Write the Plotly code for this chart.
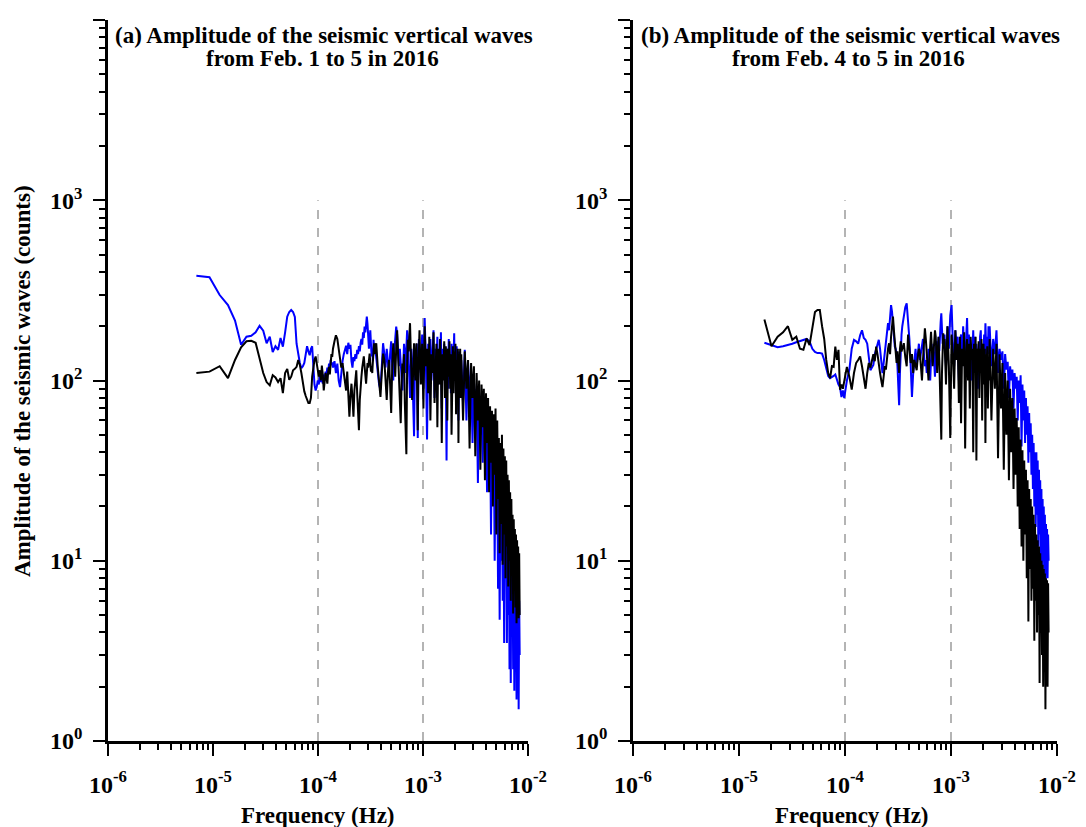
import plotly.graph_objects as go

# ---------------- data ----------------
DF_A = 1 / 432000.0   # Hz, frequency resolution of the Feb. 1-5 record
DF_B = 1 / 172800.0   # Hz, frequency resolution of the Feb. 4-5 record

# frequency-bin segments: (first bin, bin step); values below follow these bins
BINS_A = [(3, 1), (60, 2), (150, 5), (400, 12), (1000, 40)]
BINS_B = [(3, 0.5), (17, 1), (60, 2), (150, 5), (400, 16)]

blue_a = [
    [381, 374, 298, 262, 215, 158, 175, 177, 185, 201, 189, 161, 175, 144, 155, 148, 172, 154, 185, 226,
     240, 246, 240, 225, 160, 136, 125, 117, 120, 125, 145, 155, 145, 138, 150, 155, 120, 95, 88, 92, 100,
     95, 110, 98, 104, 96, 108, 102, 112, 106, 118, 110, 124, 116, 130, 122, 126],
    [118, 128, 110, 124, 100, 92, 115, 128, 140, 150, 156, 140, 162, 150, 158, 128, 118, 135, 128, 140,
     132, 148, 140, 155, 145, 162, 170, 158, 185, 172, 199, 185, 215, 226, 205, 180, 150, 172, 190, 160,
     136, 150, 128, 168, 150],
    [160, 130, 110, 95, 89, 120, 161, 140, 118, 150, 130, 108, 140, 165, 120, 100, 145, 170, 199, 180,
     140, 120, 150, 130, 100, 88, 120, 160, 140, 110, 150, 190, 175, 130, 95, 80, 110, 150, 130, 90,
     70, 49, 95, 140, 120, 160, 100, 48, 120, 170],
    [150, 110, 180, 90, 222, 130, 47, 160, 120, 170, 100, 140, 190, 80, 150, 120, 175, 95, 140, 110,
     185, 70, 150, 130, 160, 100, 125, 36, 150, 90, 170, 120, 140, 85, 160, 110, 150, 130, 183, 100,
     140, 75, 155, 110, 130, 60, 145, 100, 125, 90],
    [130, 75, 148, 60, 125, 85, 110, 45, 100, 70, 90, 27, 85, 50, 80, 35, 72, 45, 65, 24,
     60, 30, 55, 14, 50, 22, 45, 10, 40, 18, 35, 7, 30, 4.7, 28, 10, 25, 6, 22, 3.5,
     20, 8, 18, 3.5, 16, 5, 14, 2.5, 13, 2.1, 12, 4, 11, 2.5, 10, 1.9, 9, 3, 8, 1.7,
     8, 2.5, 7, 1.5, 6, 3],
]

black_a = [
    [110, 112, 120, 103, 130, 153, 165, 166, 162, 132, 110, 98, 94, 107, 104, 98, 103, 85, 110, 116,
     101, 105, 114, 116, 119, 130, 122, 110, 95, 87, 82, 77, 75, 75, 80, 105, 119, 130, 136, 125, 110,
     105, 114, 100, 121, 108, 88, 98, 110, 104, 96, 112, 119, 108, 125, 140, 135],
    [150, 165, 178, 170, 150, 135, 118, 125, 108, 95, 88, 112, 75, 63, 82, 96, 80, 63, 88, 105,
     114, 85, 66, 53, 78, 98, 105, 118, 128, 136, 120, 105, 96, 110, 125, 118, 130, 141, 125, 112,
     120, 110, 128, 145, 161],
    [140, 161, 120, 95, 81, 110, 141, 130, 100, 78, 110, 130, 95, 66, 120, 161, 135, 105, 150, 190,
     140, 110, 85, 58, 95, 124, 110, 140, 75, 55, 39, 120, 168, 145, 180, 208, 150, 110, 78, 95,
     130, 161, 120, 100, 140, 161, 90, 53, 110, 150],
    [190, 95, 160, 70, 200, 120, 150, 85, 175, 60, 140, 110, 185, 75, 130, 160, 55, 150, 95, 170,
     120, 45, 140, 100, 165, 80, 155, 130, 60, 150, 105, 165, 90, 140, 50, 120, 155, 85, 145, 110,
     160, 65, 130, 95, 150, 45, 140, 115, 150, 80],
    [140, 60, 145, 90, 130, 42, 125, 80, 120, 38, 110, 60, 100, 32, 95, 55, 90, 28, 85, 45,
     80, 24, 72, 35, 68, 20, 65, 30, 70, 14, 60, 22, 48, 11, 45, 16, 50, 9.5, 42, 14,
     38, 8, 36, 12, 30, 7.2, 28, 10, 24, 6, 22, 9, 18, 5.1, 17, 8, 15, 5.5, 14, 4.5,
     13, 6, 12, 4.8, 11, 5],
]

blue_b = [
    [162, 157, 153, 155, 157, 160, 163, 166, 168, 170, 165, 150, 144, 142, 142, 141, 130, 118, 106, 103,
     104, 106, 108, 100, 95, 92, 81, 88],
    [80, 100, 115, 150, 168, 165, 160, 178, 190, 172, 168, 160, 130, 114, 118, 122, 140, 150, 160, 168,
     150, 130, 110, 125, 140, 165, 180, 208, 190, 235, 262, 240, 200, 175, 154, 150, 140, 120, 100, 73,
     110, 150, 180],
    [200, 230, 255, 268, 220, 170, 120, 81, 110, 130, 150, 120, 141, 160, 130, 145, 154, 170, 140, 120,
     130, 110, 125, 150, 115, 100, 130, 150, 141, 160, 125, 105, 140, 165, 130, 150, 175, 145, 190, 210,
     236, 200, 160, 180, 150],
    [180, 120, 200, 150, 230, 262, 160, 120, 190, 140, 175, 100, 160, 180, 130, 200, 150, 110, 170, 222,
     140, 180, 120, 160, 100, 150, 190, 130, 175, 110, 160, 140, 90, 150, 120, 175, 190, 130, 160, 100,
     150, 180, 140, 208, 160, 120, 175, 140, 200, 150],
    [200, 120, 170, 140, 190, 110, 150, 130, 145, 90, 140, 115, 127, 80, 120, 100, 115, 70, 110, 90,
     105, 60, 100, 75, 107, 43, 95, 60, 88, 45, 80, 50, 72, 35, 66, 40, 58, 30, 50, 25,
     45, 20, 40, 15.4, 40, 18, 36, 12, 32, 14, 28, 10, 25, 7.8, 22, 10, 20, 8, 18, 7.5,
     16, 9, 15, 8, 14, 10],
]

black_b = [
    [218, 155, 175, 185, 200, 168, 175, 150, 148, 171, 157, 200, 240, 246, 246, 200, 170, 130, 110, 103,
     120, 119, 154, 130, 148, 89, 95, 90],
    [100, 119, 105, 89, 110, 125, 130, 136, 120, 100, 90, 110, 125, 118, 132, 140, 128, 154, 140, 120,
     110, 100, 92, 105, 120, 115, 135, 150, 161, 140, 175, 200, 226, 190, 160, 140, 125, 145, 130, 110,
     150, 165, 145],
    [150, 161, 135, 120, 180, 150, 125, 140, 110, 130, 120, 114, 135, 150, 141, 120, 100, 130, 165, 195,
     170, 140, 119, 100, 130, 160, 186, 150, 120, 140, 160, 190, 175, 140, 110, 150, 175, 130, 100, 75,
     47, 110, 150, 183, 160],
    [170, 95, 200, 120, 48, 180, 140, 90, 190, 130, 160, 75, 175, 58, 150, 120, 185, 42, 140, 170,
     100, 160, 70, 175, 130, 150, 40, 160, 110, 175, 36, 150, 120, 165, 80, 150, 110, 170, 60, 140,
     160, 95, 150, 45, 140, 120, 155, 70, 135, 100],
    [170, 60, 150, 90, 160, 37, 140, 70, 125, 32, 110, 50, 100, 28, 90, 40, 80, 25, 70, 30,
     62, 20, 55, 15, 47, 12, 41, 10, 36, 14, 32, 8, 28, 4.6, 25, 9, 22, 6, 20, 7,
     18, 3.6, 16, 6, 14, 4, 13, 5, 12, 2.1, 11, 4, 10, 3, 9.5, 2, 9, 3.5, 8.5, 1.5,
     8, 3, 7.8, 2, 7.5, 4],
]

X_TICKS = [1e-6, 1e-5, 1e-4, 1e-3, 1e-2]
X_LABELS = ["10<sup>-6</sup>", "10<sup>-5</sup>", "10<sup>-4</sup>", "10<sup>-3</sup>", "10<sup>-2</sup>"]
Y_TICKS = [1, 10, 100, 1000, 10000]
Y_LABELS = ["10<sup>0</sup>", "10<sup>1</sup>", "10<sup>2</sup>", "10<sup>3</sup>", "10<sup>4</sup>"]
REF_FREQS = [1e-4, 1e-3]
REF_SPAN = [1, 1000]

TITLE_A = ["(a) Amplitude of the seismic vertical waves", "from Feb. 1 to 5 in 2016"]
TITLE_B = ["(b) Amplitude of the seismic vertical waves", "from Feb. 4 to 5 in 2016"]
X_TITLE = "Frequency (Hz)"
Y_TITLE = "Amplitude of the seismic waves (counts)"


def spectrum(bins, segments, df):
    f, a = [], []
    for (k0, step), vals in zip(bins, segments):
        for i, v in enumerate(vals):
            f.append((k0 + step * i) * df)
            a.append(v)
    return f, a


FONT = "Liberation Serif, Times New Roman, serif"
BLUE = "#0000ff"
BLACK = "#000000"

fig = go.Figure()

panels = [
    ("x", "y", BINS_A, DF_A, blue_a, black_a),
    ("x2", "y2", BINS_B, DF_B, blue_b, black_b),
]
for xa, ya, bins, df, blue, black in panels:
    for fr in REF_FREQS:
        fig.add_trace(go.Scatter(x=[fr, fr], y=REF_SPAN, mode="lines", xaxis=xa, yaxis=ya,
                                 line=dict(color="#b4b4b4", width=2, dash="dash"), hoverinfo="skip"))
    fb, ab = spectrum(bins, blue, df)
    fig.add_trace(go.Scatter(x=fb, y=ab, mode="lines", xaxis=xa, yaxis=ya,
                             line=dict(color=BLUE, width=2)))
    fk, ak = spectrum(bins, black, df)
    fig.add_trace(go.Scatter(x=fk, y=ak, mode="lines", xaxis=xa, yaxis=ya,
                             line=dict(color=BLACK, width=2)))

# page body adds an 8 px offset; the figure is laid out in screen pixels minus that
OFF = 8
W, H = 1086 - OFF, 827 - OFF
TOP_S, BOT_S = 20, 741          # screen y of plot top / bottom


def px(sx):
    return (sx - OFF) / W


def py(sy):
    return (BOT_S - sy) / (BOT_S - TOP_S)


common_x = dict(type="log", range=[-6, -2], showline=True, linecolor="black", linewidth=2.5,
                ticks="outside", ticklen=12, tickwidth=2, tickcolor="black",
                tickmode="array", tickvals=X_TICKS, ticktext=["<b>%s</b>" % t for t in X_LABELS],
                tickfont=dict(family=FONT, size=24, color="black"), ticklabelstandoff=8,
                showgrid=False, zeroline=False, mirror=False, automargin=False,
                minor=dict(ticks="outside", ticklen=6, tickwidth=2, tickcolor="black",
                           dtick="D1", showgrid=False))
common_y = dict(type="log", range=[0, 4], showline=True, linecolor="black", linewidth=2.5,
                ticks="outside", ticklen=12, tickwidth=2, tickcolor="black",
                tickmode="array", tickvals=Y_TICKS, ticktext=["<b>%s</b>" % t for t in Y_LABELS],
                tickfont=dict(family=FONT, size=24, color="black"), ticklabelstandoff=6,
                showgrid=False, zeroline=False, mirror=False, automargin=False,
                minor=dict(ticks="outside", ticklen=6, tickwidth=2, tickcolor="black",
                           dtick="D1", showgrid=False))

fig.update_layout(
    width=W, height=H,
    margin=dict(l=0, r=0, t=TOP_S - OFF, b=H - (BOT_S - OFF), pad=0),
    paper_bgcolor="white", plot_bgcolor="white",
    showlegend=False,
    font=dict(family=FONT, color="black"),
    xaxis=dict(domain=[px(108), px(528)], anchor="y", **common_x),
    yaxis=dict(domain=[0, 1], anchor="x", **common_y),
    xaxis2=dict(domain=[px(633), px(1057)], anchor="y2", **common_x),
    yaxis2=dict(domain=[0, 1], anchor="x2", **common_y),
)

ann = dict(showarrow=False, xref="paper", yref="paper", xanchor="center", yanchor="middle",
           font=dict(family=FONT, size=23, color="black"))
for title, cx in ((TITLE_A, 324), (TITLE_B, 850)):
    fig.add_annotation(text="<b>%s</b>" % title[0], x=px(cx), y=py(36), **ann)
    fig.add_annotation(text="<b>%s</b>" % title[1], x=px(cx - 2), y=py(59), **ann)
fig.add_annotation(text="<b>%s</b>" % X_TITLE, x=px(318), y=py(815), **ann)
fig.add_annotation(text="<b>%s</b>" % X_TITLE, x=px(852), y=py(815), **ann)
fig.add_annotation(text="<b>%s</b>" % Y_TITLE, x=px(22), y=py(381), textangle=-90, **ann)

fig.write_html("out.html")
